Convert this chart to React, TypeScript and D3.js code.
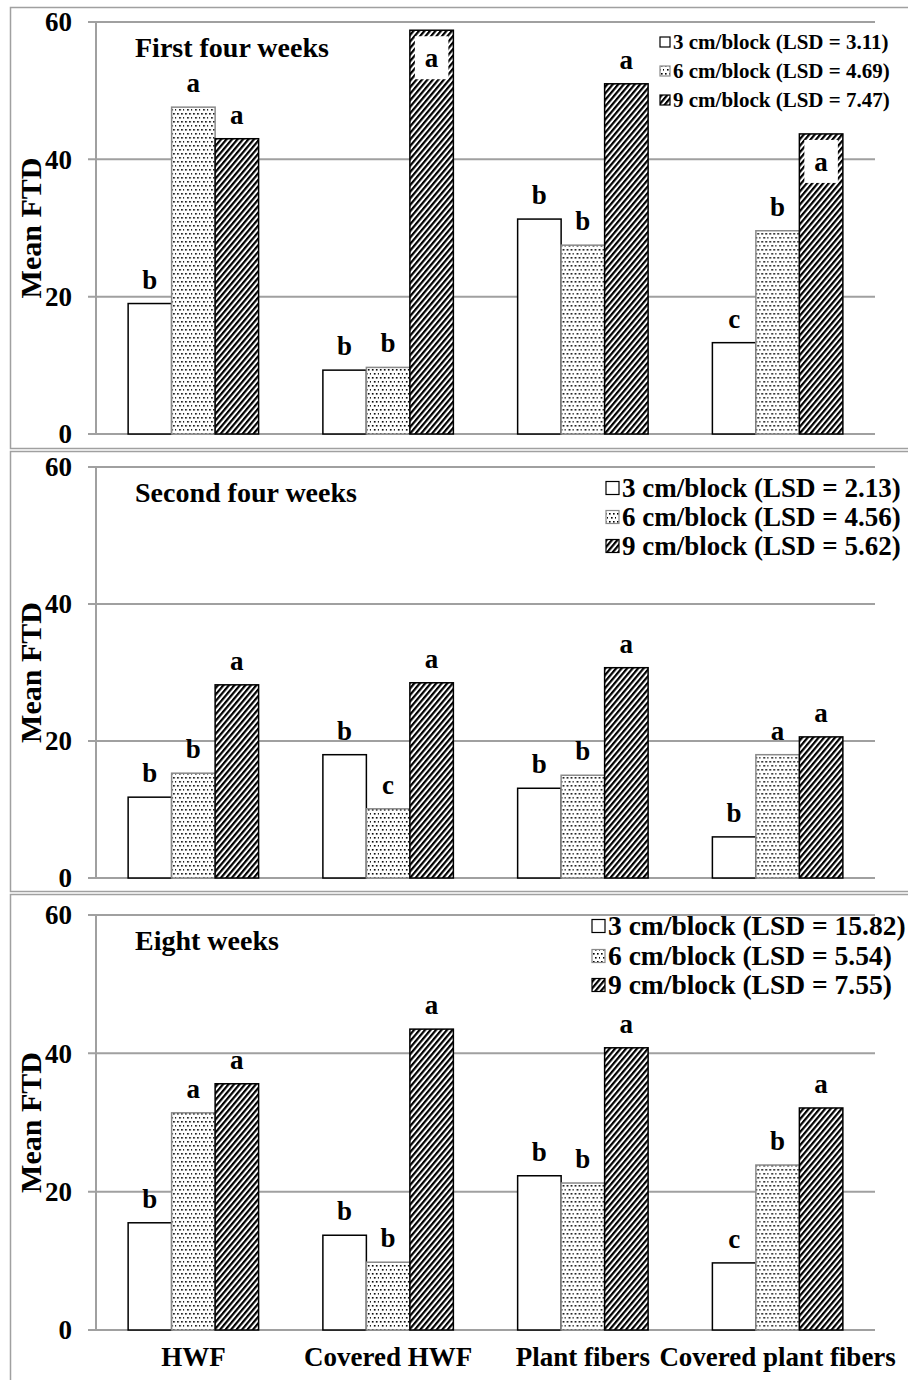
import React from "react";
import * as d3 from "d3";

const categories = ["HWF", "Covered HWF", "Plant fibers", "Covered plant fibers"];
const seriesKeys = ["3 cm/block", "6 cm/block", "9 cm/block"];
const yTicks = [0, 20, 40, 60];

const titles = ["First four weeks", "Second four weeks", "Eight weeks"];
const lsd1 = ["3.11", "4.69", "7.47"];
const lsd2 = ["2.13", "4.56", "5.62"];
const lsd3 = ["15.82", "5.54", "7.55"];

// values[category][series]
const values1 = [
  [19.0, 47.6, 43.0],
  [9.3, 9.7, 58.8],
  [31.3, 27.5, 51.0],
  [13.3, 29.6, 43.7],
];
const letters1 = [
  ["b", "a", "a"],
  ["b", "b", "a"],
  ["b", "b", "a"],
  ["c", "b", "a"],
];
const values2 = [
  [11.8, 15.3, 28.2],
  [18.0, 10.1, 28.5],
  [13.1, 15.0, 30.7],
  [6.0, 18.0, 20.6],
];
const letters2 = [
  ["b", "b", "a"],
  ["b", "c", "a"],
  ["b", "b", "a"],
  ["b", "a", "a"],
];
const values3 = [
  [15.5, 31.4, 35.6],
  [13.7, 9.8, 43.5],
  [22.3, 21.25, 40.8],
  [9.7, 23.85, 32.1],
];
const letters3 = [
  ["b", "a", "a"],
  ["b", "b", "a"],
  ["b", "b", "a"],
  ["c", "b", "a"],
];

const FONT = "'Liberation Serif', 'Times New Roman', serif";
const GRID = "#a0a0a0";

type PanelCfg = {
  title: string;
  lsd: string[];
  values: number[][];
  letters: string[][];
  top: number;
  bottom: number;
  boxTop: number;
  boxBottom: number;
  legendX: number;
  legendY: number[];
  legendFont: number;
  legendIcon: number;
  inside: boolean[][];
};

const panels: PanelCfg[] = [
  {
    title: titles[0], lsd: lsd1, values: values1, letters: letters1,
    top: 22, bottom: 434, boxTop: 7, boxBottom: 448,
    legendX: 660, legendY: [42, 71, 100], legendFont: 21, legendIcon: 10,
    inside: [[false, false, false], [false, false, true], [false, false, false], [false, false, true]],
  },
  {
    title: titles[1], lsd: lsd2, values: values2, letters: letters2,
    top: 467, bottom: 878, boxTop: 451, boxBottom: 891,
    legendX: 606, legendY: [488, 517, 546], legendFont: 27, legendIcon: 13,
    inside: [[false, false, false], [false, false, false], [false, false, false], [false, false, false]],
  },
  {
    title: titles[2], lsd: lsd3, values: values3, letters: letters3,
    top: 915, bottom: 1330, boxTop: 894, boxBottom: 1390,
    legendX: 592, legendY: [926, 956, 985], legendFont: 27.5, legendIcon: 13,
    inside: [[false, false, false], [false, false, false], [false, false, false], [false, false, false]],
  },
];

const x0 = d3.scaleBand<string>().domain(categories).range([96, 875]).paddingInner(0.33).paddingOuter(0.165);
const x1 = d3.scaleBand<string>().domain(seriesKeys).range([0, x0.bandwidth()]).padding(0);

const fills = ["#ffffff", "url(#dots)", "url(#hatch)"];
const strokes = ["#000", "#8a8a8a", "#000"];

function Panel({ cfg, idx }: { cfg: PanelCfg; idx: number }) {
  const y = d3.scaleLinear().domain([0, 60]).range([cfg.bottom, cfg.top]);
  const midY = (cfg.top + cfg.bottom) / 2;
  return (
    <g>
      <rect x={10.5} y={cfg.boxTop + 0.5} width={910} height={cfg.boxBottom - cfg.boxTop} fill="#fff" stroke={GRID} strokeWidth={1.5} />
      {yTicks.map((t) => (
        <g key={t}>
          <line x1={88} x2={875} y1={y(t)} y2={y(t)} stroke={GRID} strokeWidth={2} />
          <text x={72} y={y(t)} dy="0.34em" textAnchor="end" fontFamily={FONT} fontWeight="bold" fontSize={27}>{t}</text>
        </g>
      ))}
      <line x1={96} x2={96} y1={y(60)} y2={y(0)} stroke={GRID} strokeWidth={2} />
      <text transform={`translate(41,${midY}) rotate(-90)`} textAnchor="middle" fontFamily={FONT} fontWeight="bold" fontSize={30}>Mean FTD</text>
      <text x={135} y={cfg.top + 29} fontFamily={FONT} fontWeight="bold" fontSize={28} dominantBaseline="middle">{cfg.title}</text>
      {categories.map((c, ci) => (
        <g key={c} transform={`translate(${x0(c)},0)`}>
          {seriesKeys.map((s, si) => {
            const v = cfg.values[ci][si];
            const bx = x1(s)!;
            const bw = x1.bandwidth();
            const top = y(v);
            const inside = cfg.inside[ci][si];
            return (
              <g key={s}>
                <rect x={bx} y={top} width={bw} height={y(0) - top} fill={fills[si]} stroke={strokes[si]} strokeWidth={1.5} />
                {inside ? (
                  <g>
                    <rect x={bx + 5} y={top + 6} width={bw - 10} height={43} fill="#fff" />
                    <text x={bx + bw / 2} y={top + 37} textAnchor="middle" fontFamily={FONT} fontWeight="bold" fontSize={27}>{cfg.letters[ci][si]}</text>
                  </g>
                ) : (
                  <text x={bx + bw / 2} y={top - 15} textAnchor="middle" fontFamily={FONT} fontWeight="bold" fontSize={27}>{cfg.letters[ci][si]}</text>
                )}
              </g>
            );
          })}
        </g>
      ))}
      {seriesKeys.map((s, si) => (
        <g key={s}>
          <rect x={cfg.legendX} y={cfg.legendY[si] - cfg.legendIcon / 2} width={cfg.legendIcon} height={cfg.legendIcon} fill={fills[si]} stroke={strokes[si]} strokeWidth={1.2} />
          <text x={cfg.legendX + cfg.legendIcon + 3} y={cfg.legendY[si]} dy="0.34em" fontFamily={FONT} fontWeight="bold" fontSize={cfg.legendFont}>{`${s} (LSD = ${cfg.lsd[si]})`}</text>
        </g>
      ))}
      {idx === 2 &&
        categories.map((c) => (
          <text key={c} x={x0(c)! + x0.bandwidth() / 2} y={1357} dy="0.34em" textAnchor="middle" fontFamily={FONT} fontWeight="bold" fontSize={27}>{c}</text>
        ))}
    </g>
  );
}

export default function App() {
  return (
    <div style={{ position: "absolute", left: 0, top: 0 }}>
      <svg width={908} height={1380} style={{ display: "block", background: "#fff" }}>
        <defs>
          <pattern id="dots" width={8} height={8} patternUnits="userSpaceOnUse">
            <rect width={8} height={8} fill="#fff" />
            <rect x={1} y={1} width={1.6} height={1.6} fill="#000" />
            <rect x={5} y={1} width={1.6} height={1.6} fill="#000" />
            <rect x={3} y={5} width={1.6} height={1.6} fill="#000" />
            <rect x={7} y={5} width={1.6} height={1.6} fill="#000" />
          </pattern>
          <pattern id="hatch" width={4.2} height={4.2} patternUnits="userSpaceOnUse" patternTransform="rotate(40)">
            <rect width={4.2} height={4.2} fill="#fff" />
            <rect x={0} y={0} width={2.2} height={4.2} fill="#000" />
          </pattern>
        </defs>
        {panels.map((p, i) => (
          <Panel key={i} cfg={p} idx={i} />
        ))}
      </svg>
    </div>
  );
}
